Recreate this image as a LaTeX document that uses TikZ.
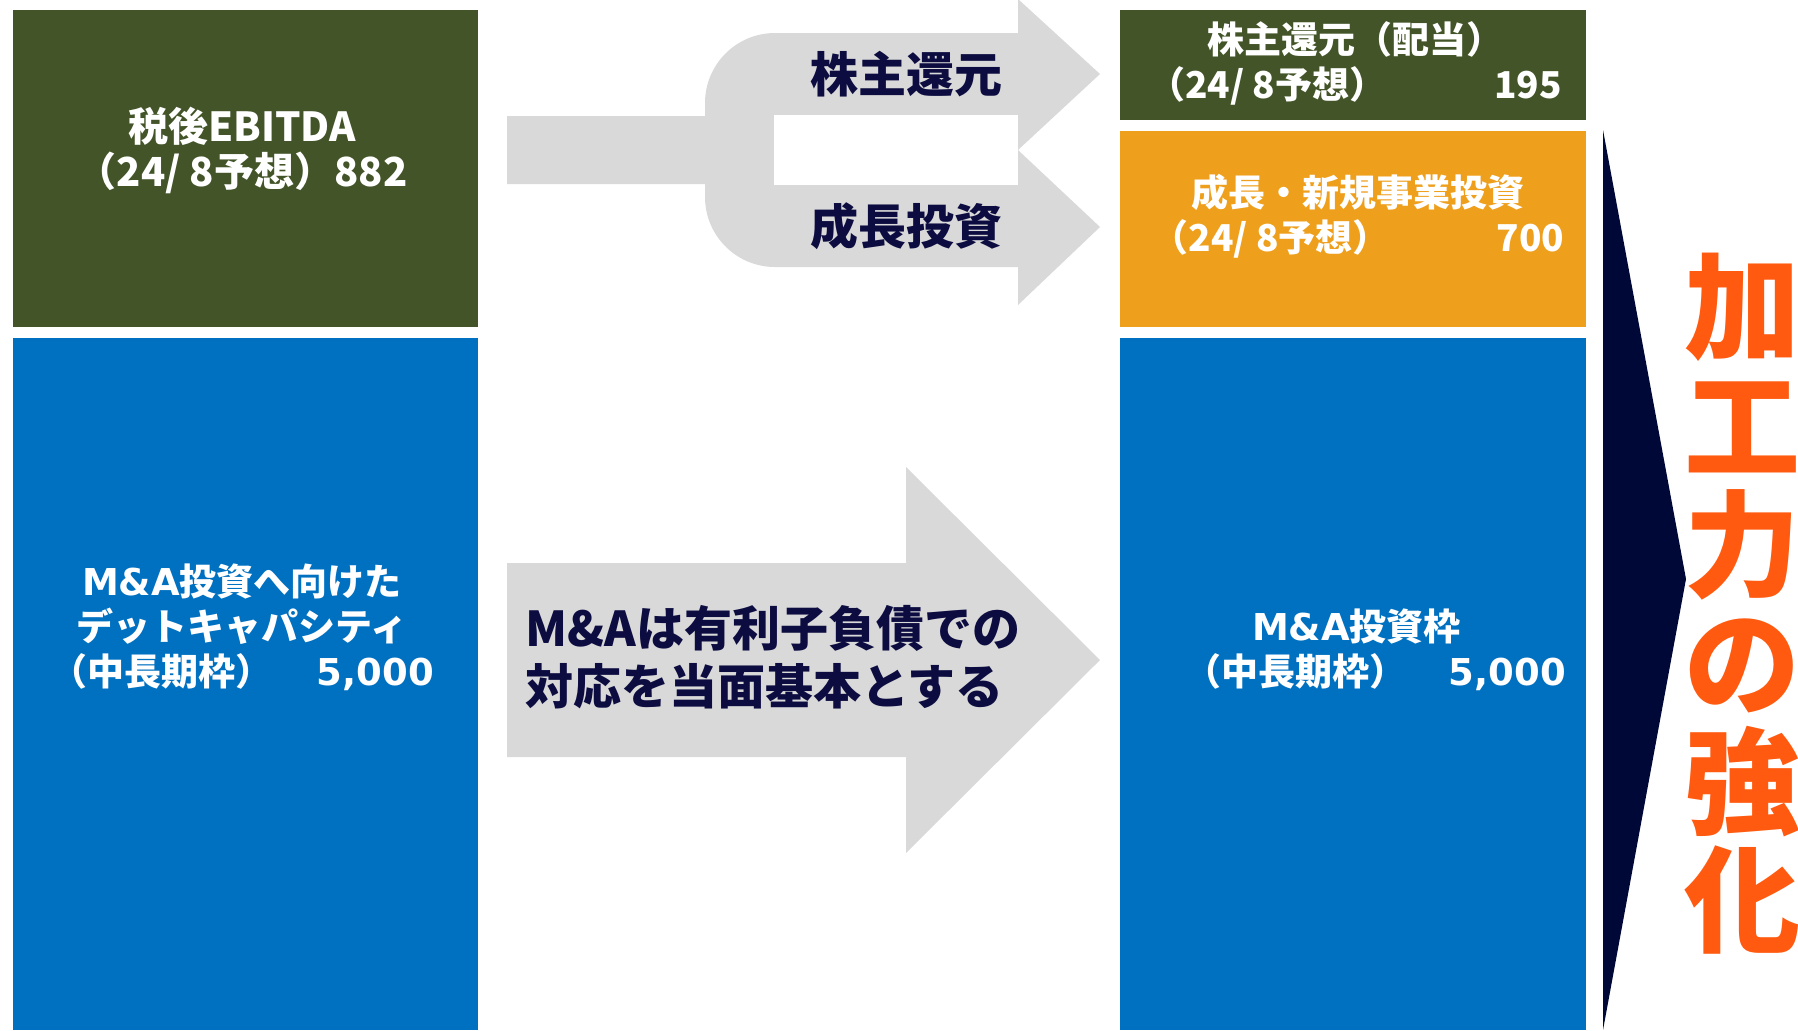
\documentclass[tikz,border=0pt]{standalone}
\usepackage{fontspec}
\usetikzlibrary{positioning}
\usetikzlibrary{fit}
\newfontfamily\jp{Noto Sans CJK JP}
\newfontfamily\vd{DejaVu Sans}
\definecolor{olivegreen}{HTML}{425428}
\definecolor{boxblue}{HTML}{0070C0}
\definecolor{amber}{HTML}{EE9F1C}
\definecolor{arrowgray}{HTML}{D9D9D9}
\definecolor{inknavy}{HTML}{0C0C40}
\definecolor{wedgenavy}{HTML}{000838}
\definecolor{accentred}{HTML}{FF5A0F}
\tikzset{
  block/.style={draw=none, inner sep=0pt, outer sep=0pt},
  boxtext/.style={text=white, align=center, inner sep=0pt,
    font=\jp\bfseries\fontsize{18.5}{22.5}\selectfont},
  arrowtext/.style={text=inknavy, inner sep=0pt,
    font=\jp\bfseries\fontsize{24}{29}\selectfont}
}
\newcommand{\vnum}[1]{{\vd\bfseries #1}}

\begin{document}
\begin{tikzpicture}[x=0.5pt,y=-0.5pt]
  \useasboundingbox (0,0) rectangle (1798,1030);

  % left column
  \node[block, fill=olivegreen, fit={(13,10) (478,327)}] (ebitda) {};
  \node[block, fill=boxblue, fit={(13,338) (478,1030)}] (debtcap) {};

  % right column
  \node[block, fill=olivegreen, fit={(1120,10) (1586,120)}] (dividend) {};
  \node[block, fill=amber, fit={(1120,131) (1586,327)}] (growth) {};
  \node[block, fill=boxblue, fit={(1120,338) (1586,1030)}] (mabox) {};

  % fork arrow
  \fill[arrowgray] (507,116) -- (705,116) -- (705,103)
    arc[start angle=180, end angle=270, radius=70] -- (1018,33)
    -- (1018,-1) -- (1100,74) -- (1018,150) -- (1100,227)
    -- (1018,305) -- (1018,267) -- (775,267)
    arc[start angle=90, end angle=180, radius=70] -- (705,184)
    -- (507,184) -- cycle;
  \fill[white] (774,115) rectangle (1018,185);

  % big arrow
  \fill[arrowgray] (507,563) -- (906,563) -- (906,467) -- (1100,660)
    -- (906,853) -- (906,757) -- (507,757) -- cycle;

  % wedge
  \fill[wedgenavy] (1603,130) -- (1686,579) -- (1603,1030) -- cycle;

  % texts
  \node[boxtext, font=\jp\bfseries\fontsize{20}{22.5}\selectfont]
    (ebitdaText) at (242,150) {税後EBITDA\\（24/ 8予想）882};
  \node[boxtext] (debtText) at (242,627)
    {\vnum{M\&A}投資へ向けた\\デットキャパシティ\\
     \makebox[192pt]{（中長期枠）\hfill\vnum{5,000}}};
  \node[boxtext] (dividendText) at (1355,63)
    {株主還元（配当）\\\makebox[207pt]{（24/ 8予想）\hfill 195}};
  \node[boxtext] (growthText) at (1358,216)
    {成長・新規事業投資\\\makebox[206.5pt]{（24/ 8予想）\hfill 700}};
  \node[boxtext] (maText) at (1375,650)
    {\makebox[191pt][l]{\hspace{34pt}\vnum{M\&A}投資枠}\\
     \makebox[191pt]{（中長期枠）\hfill\vnum{5,000}}};

  \node[arrowtext, anchor=east] (returnLabel) at (1003,74) {株主還元};
  \node[arrowtext, anchor=east] (investLabel) at (1003,226) {成長投資};
  \node[arrowtext, anchor=west, align=left] (debtLabel) at (525,657)
    {M\&Aは有利子負債での\\対応を当面基本とする};

  \node[text=accentred, align=center, inner sep=0pt,
    font=\jp\bfseries\fontsize{58}{59.3}\selectfont]
    (strengthen) at (1742,604) {加\\工\\力\\の\\強\\化};
\end{tikzpicture}
\end{document}
